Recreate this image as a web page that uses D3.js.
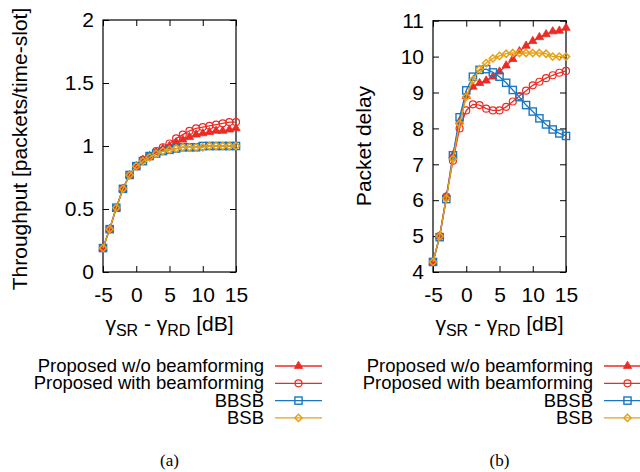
<!DOCTYPE html>
<html>
<head>
<meta charset="utf-8">
<script src="https://cdn.jsdelivr.net/npm/d3@7"></script>
<style>
  body { margin: 0; background: #fff; }
  svg { font-family: "Liberation Sans", Arial, sans-serif; }
</style>
</head>
<body>
<div id="chart"></div>
<script>
// x values (dB)
var snrDiff = [-5,-4,-3,-2,-1,0,1,2,3,4,5,6,7,8,9,10,11,12,13,14,15];

// throughput
var thrNoBF   = [0.19,0.34,0.51,0.66,0.77,0.84,0.89,0.92,0.95,0.98,1.00,1.03,1.05,1.07,1.09,1.10,1.11,1.12,1.12,1.13,1.14];
var thrBF     = [0.19,0.34,0.51,0.66,0.77,0.84,0.89,0.92,0.96,0.99,1.02,1.06,1.09,1.12,1.14,1.15,1.16,1.17,1.18,1.19,1.19];
var thrBBSB   = [0.19,0.34,0.51,0.66,0.77,0.84,0.88,0.92,0.94,0.96,0.97,0.98,0.99,0.99,0.99,1.00,1.00,1.00,1.00,1.00,1.00];
var thrBSB    = [0.19,0.34,0.51,0.66,0.77,0.84,0.88,0.91,0.94,0.96,0.97,0.98,0.99,0.99,0.99,0.99,1.00,1.00,1.00,1.00,1.00];

// packet delay
var delNoBF   = [4.28,5.00,6.10,7.25,8.20,8.90,9.16,9.26,9.33,9.44,9.58,9.75,9.93,10.15,10.30,10.43,10.54,10.62,10.70,10.72,10.80];
var delBF     = [4.28,5.00,6.10,7.10,8.00,8.50,8.67,8.65,8.55,8.50,8.50,8.60,8.75,8.90,9.05,9.20,9.30,9.40,9.48,9.55,9.60];
var delBBSB   = [4.28,4.97,6.03,7.25,8.31,9.06,9.44,9.63,9.65,9.56,9.44,9.27,9.07,8.87,8.65,8.47,8.28,8.11,7.97,7.86,7.79];
var delBSB    = [4.28,5.00,6.05,7.15,8.13,8.88,9.35,9.65,9.82,9.95,10.02,10.08,10.10,10.10,10.10,10.10,10.10,10.08,10.00,10.00,10.00];

var seriesNames = ["Proposed w/o beamforming", "Proposed with beamforming", "BBSB", "BSB"];
var seriesColors = ["#ec2b24", "#ec2b24", "#1a78c2", "#e6a117"];
var seriesMarkers = ["triangle", "circle", "square", "diamond"];

var xTicks = [-5, 0, 5, 10, 15];
var thrTicks = [0, 0.5, 1, 1.5, 2];
var delTicks = [4, 5, 6, 7, 8, 9, 10, 11];

var svg = d3.select("#chart").append("svg")
    .attr("width", 640)
    .attr("height", 472);

function drawMarker(g, type, color) {
  if (type == "triangle") {
    g.append("path").attr("d", d3.symbol(d3.symbolTriangle, 30)())
      .attr("fill", color).attr("stroke", color).attr("stroke-width", 0.8);
  } else if (type == "circle") {
    g.append("circle").attr("r", 3.5)
      .attr("fill", "none").attr("stroke", color).attr("stroke-width", 1.2);
  } else if (type == "square") {
    g.append("rect").attr("x", -3.6).attr("y", -3.6).attr("width", 7.2).attr("height", 7.2)
      .attr("fill", "none").attr("stroke", color).attr("stroke-width", 1.4);
  } else {
    g.append("path").attr("d", "M0,-3.6L3.6,0L0,3.6L-3.6,0Z")
      .attr("fill", "none").attr("stroke", color).attr("stroke-width", 1.5);
  }
}

function panel(opt) {
  var g = svg.append("g");
  var x = d3.scaleLinear().domain([-5, 15]).range([opt.left, opt.right]);
  var y = d3.scaleLinear().domain(opt.yDomain).range([opt.bottom, opt.top]);

  // ticks on all four sides, pointing inward
  g.append("g").attr("transform", "translate(0," + opt.bottom + ")")
    .call(d3.axisBottom(x).tickValues(xTicks).tickSize(-6).tickSizeOuter(0).tickPadding(15)
      .tickFormat(function(d) { return String(d); }));
  g.append("g").attr("transform", "translate(0," + opt.top + ")")
    .call(d3.axisTop(x).tickValues(xTicks).tickSize(-6).tickSizeOuter(0).tickFormat(""));
  g.append("g").attr("transform", "translate(" + opt.left + ",0)")
    .call(d3.axisLeft(y).tickValues(opt.yTicks).tickSize(-6).tickSizeOuter(0).tickPadding(9)
      .tickFormat(function(d) { return String(d); }));
  g.append("g").attr("transform", "translate(" + opt.right + ",0)")
    .call(d3.axisRight(y).tickValues(opt.yTicks).tickSize(-6).tickSizeOuter(0).tickFormat(""));

  g.selectAll(".domain").remove();
  g.selectAll(".tick line").attr("stroke", "#000").attr("stroke-width", 1);
  g.selectAll(".tick text").style("font-size", "21px").attr("fill", "#000");

  g.append("rect")
    .attr("x", opt.left).attr("y", opt.top)
    .attr("width", opt.right - opt.left).attr("height", opt.bottom - opt.top)
    .attr("fill", "none").attr("stroke", "#000").attr("stroke-width", 1.2);

  // lines in plot order, BSB ends up on top
  opt.data.forEach(function(vals, s) {
    var pts = snrDiff.map(function(v, i) { return [v, vals[i]]; });
    g.append("path")
      .datum(pts)
      .attr("fill", "none")
      .attr("stroke", seriesColors[s])
      .attr("stroke-width", 1.3)
      .attr("d", d3.line().x(function(d) { return x(d[0]); }).y(function(d) { return y(d[1]); }));
    pts.forEach(function(d) {
      var m = g.append("g").attr("transform", "translate(" + x(d[0]) + "," + y(d[1]) + ")");
      drawMarker(m, seriesMarkers[s], seriesColors[s]);
    });
  });

  // axis titles
  var xl = g.append("text")
    .attr("x", (opt.left + opt.right) / 2).attr("y", 331)
    .attr("text-anchor", "middle").style("font-size", "21px");
  xl.append("tspan").text("γ");
  xl.append("tspan").attr("dy", 5).style("font-size", "16px").text("SR");
  xl.append("tspan").attr("dy", -5).text(" - γ");
  xl.append("tspan").attr("dy", 5).style("font-size", "16px").text("RD");
  xl.append("tspan").attr("dy", -5).text(" [dB]");

  g.append("text")
    .attr("transform", "translate(" + opt.yLabelX + "," + opt.yLabelY + ")rotate(-90)")
    .attr("text-anchor", "middle").style("font-size", "21px")
    .text(opt.yLabel);

  // legend
  seriesNames.forEach(function(name, i) {
    var ly = 366 + i * 17.3;
    g.append("text").attr("x", opt.legendX).attr("y", ly + 6)
      .attr("text-anchor", "end").style("font-size", "18.5px").text(name);
    g.append("line").attr("x1", opt.legendX + 11).attr("x2", opt.legendX + 58)
      .attr("y1", ly).attr("y2", ly)
      .attr("stroke", seriesColors[i]).attr("stroke-width", 1.3);
    var m = g.append("g").attr("transform", "translate(" + (opt.legendX + 34.5) + "," + ly + ")");
    drawMarker(m, seriesMarkers[i], seriesColors[i]);
  });

  g.append("text")
    .attr("x", (opt.left + opt.right) / 2).attr("y", 466)
    .attr("text-anchor", "middle")
    .style("font-family", "'Liberation Serif', 'Times New Roman', serif")
    .style("font-size", "17px")
    .text(opt.caption);
}

panel({
  left: 103, right: 236, top: 20, bottom: 272,
  yDomain: [0, 2], yTicks: thrTicks,
  data: [thrNoBF, thrBF, thrBBSB, thrBSB],
  yLabel: "Throughput [packets/time-slot]", yLabelX: 27, yLabelY: 149,
  legendX: 264, caption: "(a)"
});

panel({
  left: 433, right: 566, top: 20.7, bottom: 272,
  yDomain: [4, 11], yTicks: delTicks,
  data: [delNoBF, delBF, delBBSB, delBSB],
  yLabel: "Packet delay", yLabelX: 371, yLabelY: 146,
  legendX: 593, caption: "(b)"
});
</script>
</body>
</html>
